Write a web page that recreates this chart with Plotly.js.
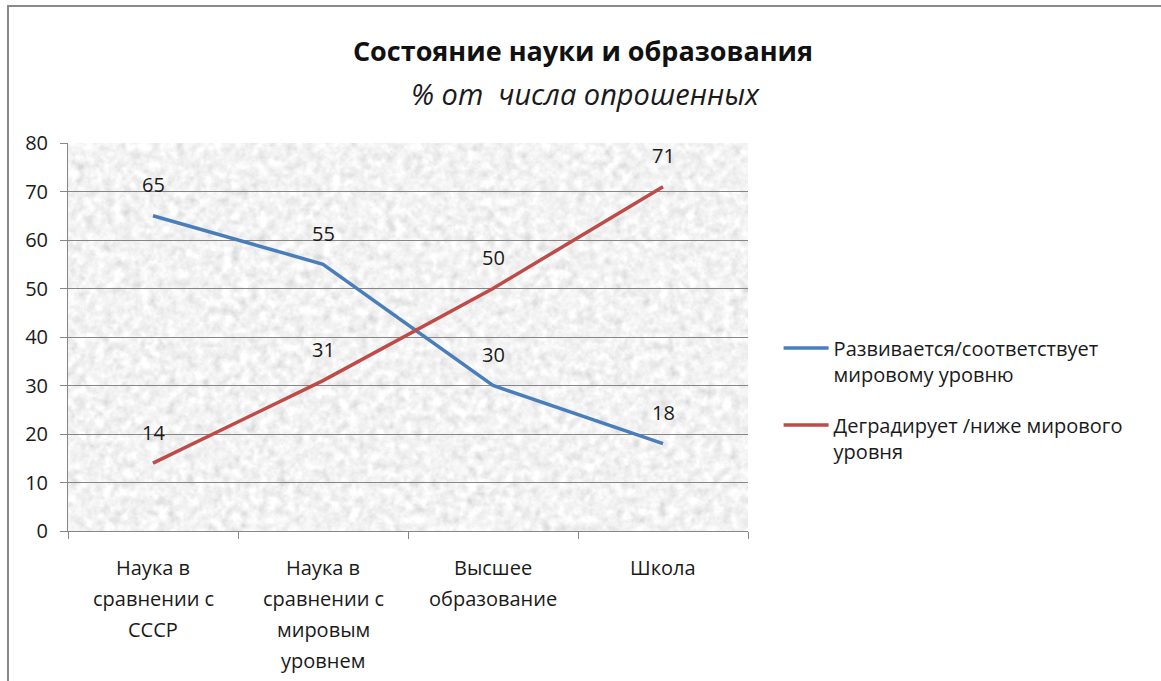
<!DOCTYPE html>
<html>
<head>
<meta charset="utf-8">
<script src="https://cdn.plot.ly/plotly-3.0.1.min.js"></script>
<style>
html,body{margin:0;padding:0;background:#fff;overflow:hidden;}
#chart{position:absolute;left:0;top:0;width:1161px;height:681px;}
#frame{position:absolute;left:7px;top:5px;width:1160px;height:700px;border:2px solid #8a8a8a;box-sizing:border-box;pointer-events:none;box-shadow:1px 1px 2px rgba(0,0,0,0.2);}
</style>
</head>
<body>
<div id="chart"></div>
<div id="frame"></div>
<script>
const categories = [
  "Наука в<br>сравнении с<br>СССР",
  "Наука в<br>сравнении с<br>мировым<br>уровнем",
  "Высшее<br>образование",
  "Школа"
];
const seriesNames = [
  "Развивается/соответствует<br>мировому уровню",
  "Деградирует /ниже мирового<br>уровня"
];
const developing = [65, 55, 30, 18];
const degrading = [14, 31, 50, 71];
const yTicks = [0, 10, 20, 30, 40, 50, 60, 70, 80];
const titleText = "Состояние науки и образования";
const subtitleText = "% от\u00a0 числа опрошенных";

const FONT = "Open Sans, Noto Sans, sans-serif";
const colors = ["#4a7ebb", "#be4b48"];
const catIdx = categories.map((c, i) => i);

const traces = [developing, degrading].map((vals, k) => ({
  x: catIdx,
  y: vals,
  type: "scatter",
  mode: "lines",
  name: seriesNames[k],
  legendgroup: "g" + k,
  line: {color: colors[k], width: 3.5},
  hoverinfo: "skip"
}));

const annotations = [];
[developing, degrading].forEach(vals => {
  vals.forEach((v, i) => {
    annotations.push({
      x: catIdx[i], y: v, xref: "x", yref: "y",
      text: String(v), showarrow: false, yshift: 31,
      font: {family: FONT, size: 20, color: "#1a1a1a"}
    });
  });
});
categories.forEach((c, i) => {
  c.split("<br>").forEach((line, j) => {
    annotations.push({
      x: catIdx[i], y: 0, xref: "x", yref: "paper",
      yanchor: "middle", text: line, showarrow: false,
      yshift: -36 - 31 * j,
      font: {family: FONT, size: 20, color: "#1a1a1a"}
    });
  });
});
annotations.push({
  x: (585 - 68) / 680, xref: "paper", y: (531 - 93) / 388, yref: "paper",
  xanchor: "center", yanchor: "middle",
  text: "<i>" + subtitleText + "</i>", showarrow: false,
  font: {family: FONT, size: 29, color: "#1a1a1a"}
});

// granite-like background texture (SVG noise filter, deterministic)
const texSvg = "<svg xmlns='http://www.w3.org/2000/svg' width='680' height='388'>" +
  "<filter id='n' x='0' y='0' width='100%' height='100%'>" +
  "<feTurbulence type='fractalNoise' baseFrequency='0.11' numOctaves='4' seed='7' result='t'/>" +
  "<feColorMatrix in='t' type='matrix' values='0.33 0.33 0.33 0 0 0.33 0.33 0.33 0 0 0.33 0.33 0.33 0 0 0 0 0 0 1'/>" +
  "<feComponentTransfer>" +
  "<feFuncR type='linear' slope='0.8' intercept='0.5'/>" +
  "<feFuncG type='linear' slope='0.8' intercept='0.5'/>" +
  "<feFuncB type='linear' slope='0.8' intercept='0.5'/>" +
  "</feComponentTransfer></filter>" +
  "<rect width='100%' height='100%' filter='url(#n)'/></svg>";

const layout = {
  width: 1161, height: 681,
  margin: {l: 68, r: 413, t: 143, b: 150},
  paper_bgcolor: "#ffffff",
  plot_bgcolor: "#e4e4e4",
  title: {
    text: "<b>" + titleText + "</b>",
    x: 583 / 1161, xref: "container", xanchor: "center",
    y: 1 - 52 / 681, yref: "container", yanchor: "middle",
    font: {family: FONT, size: 27, color: "#111"}
  },
  images: [{
    source: "data:image/svg+xml;charset=utf-8," + encodeURIComponent(texSvg),
    xref: "paper", yref: "paper", x: 0, y: 1, sizex: 1, sizey: 1,
    xanchor: "left", yanchor: "top", sizing: "stretch", layer: "below"
  }],
  xaxis: {
    type: "linear",
    range: [-0.5, 3.5],
    tickvals: [-0.5, 0.5, 1.5, 2.5, 3.5],
    ticktext: ["", "", "", "", ""],
    ticks: "outside", ticklen: 7, tickcolor: "#868686", tickwidth: 1,
    showgrid: false, zeroline: false,
    showline: true, linecolor: "#868686", linewidth: 1,
    fixedrange: true
  },
  yaxis: {
    range: [0, 80],
    tickvals: yTicks,
    ticks: "outside", ticklen: 7, tickcolor: "#868686",
    showgrid: true, gridcolor: "#868686", gridwidth: 1,
    zeroline: false,
    showline: true, linecolor: "#868686", linewidth: 1,
    tickfont: {family: FONT, size: 20, color: "#1a1a1a"},
    ticklabelstandoff: 8,
    fixedrange: true
  },
  showlegend: true,
  legend: {
    x: 1.045, xanchor: "left", y: 0.522, yanchor: "top",
    traceorder: "grouped", tracegroupgap: 22,
    valign: "top", itemwidth: 45,
    font: {family: FONT, size: 20, color: "#1a1a1a"},
    bgcolor: "rgba(0,0,0,0)"
  },
  annotations: annotations
};

Plotly.newPlot("chart", traces, layout, {displayModeBar: false, staticPlot: true});
</script>
</body>
</html>
